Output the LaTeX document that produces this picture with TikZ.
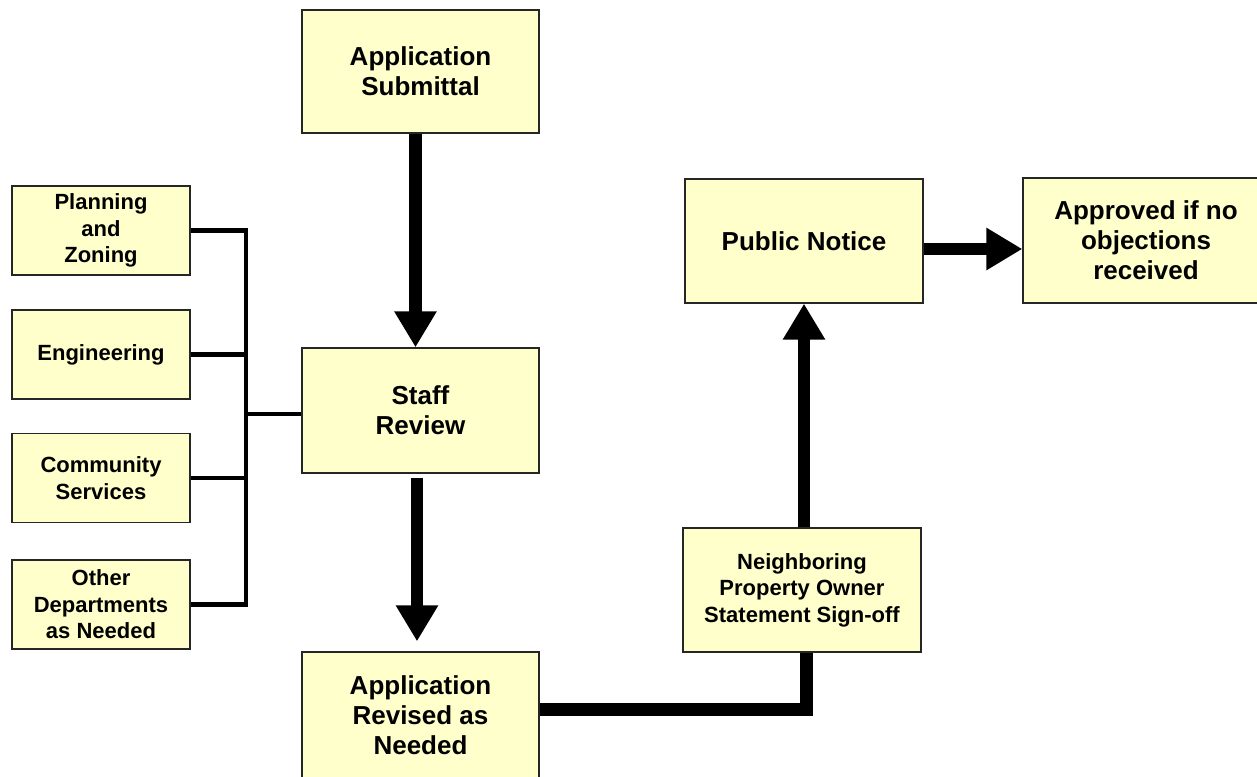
\documentclass[tikz,border=0pt]{standalone}
\usepackage{fontspec}
\setmainfont{Liberation Sans}
\usetikzlibrary{arrows.meta}
\definecolor{boxfill}{HTML}{FFFFCC}

\begin{document}
\begin{tikzpicture}[x=1pt, y=-1pt,
  box/.style={draw=black!85, line width=1.3pt, fill=boxfill, align=center, inner sep=0pt,
    font=\bfseries\fontsize{26}{30}\selectfont, minimum width=237pt, minimum height=124pt},
  dept/.style={box, font=\bfseries\fontsize{22}{26.5}\selectfont, minimum width=178pt, minimum height=89pt},
  flow/.style={line width=12.5pt, -{Triangle[width=40pt,length=36pt]}},
  link/.style={line width=4.5pt, line join=miter}]
\clip (0,0) rectangle (1257,776);
\coordinate (bus) at (246,414);

% main boxes
\node[box, minimum height=123pt] (sub) at (420.5,71.5) {Application\\Submittal};
\node[box, minimum height=125pt] (staff) at (420.5,410.5) {Staff\\Review};
\node[box, minimum height=126pt] (rev) at (420.5,715) {Application\\Revised as\\Needed};
\node[box, minimum width=238pt] (pub) at (804,241) {Public Notice};
\node[box, minimum width=246pt, minimum height=125pt] (appr) at (1146,240.5) {Approved if no\\objections\\received};
\node[box, font=\bfseries\fontsize{22}{26.5}\selectfont, minimum width=238pt] (neigh) at (802,590) {Neighboring\\Property Owner\\Statement Sign-off};

% departments
\foreach \n/\y/\t in {plan/230.5/{Planning\\and\\Zoning}, eng/354.5/Engineering, comm/478/{Community\\Services}, other/604.5/{Other\\Departments\\as Needed}}
{
  \node[dept] (\n) at (101,\y) {\t};
}
\draw[link] (plan.east) -| (bus |- other.east) -- (other.east);
\draw[link] (eng.east) -- (eng.east -| bus);
\draw[link] (comm.east) -- (comm.east -| bus);
\draw[link] (bus) -- (bus -| staff.west);

% flow
\draw[flow] ([xshift=-5pt]sub.south) -- ([xshift=-5pt]staff.north);
\draw[flow] ([xshift=-3.5pt,yshift=-4pt]staff.south) -- ([xshift=-3.5pt,yshift=10pt]rev.north);
\draw[line width=13pt, line join=miter] ([yshift=6pt]rev.east) -| ([xshift=4pt]neigh.south);
\draw[flow] (pub.south |- neigh.north) -- (pub.south);
\draw[flow] ([yshift=-8pt]pub.east) -- ([yshift=-8pt]pub.east -| appr.west);
\end{tikzpicture}
\end{document}
